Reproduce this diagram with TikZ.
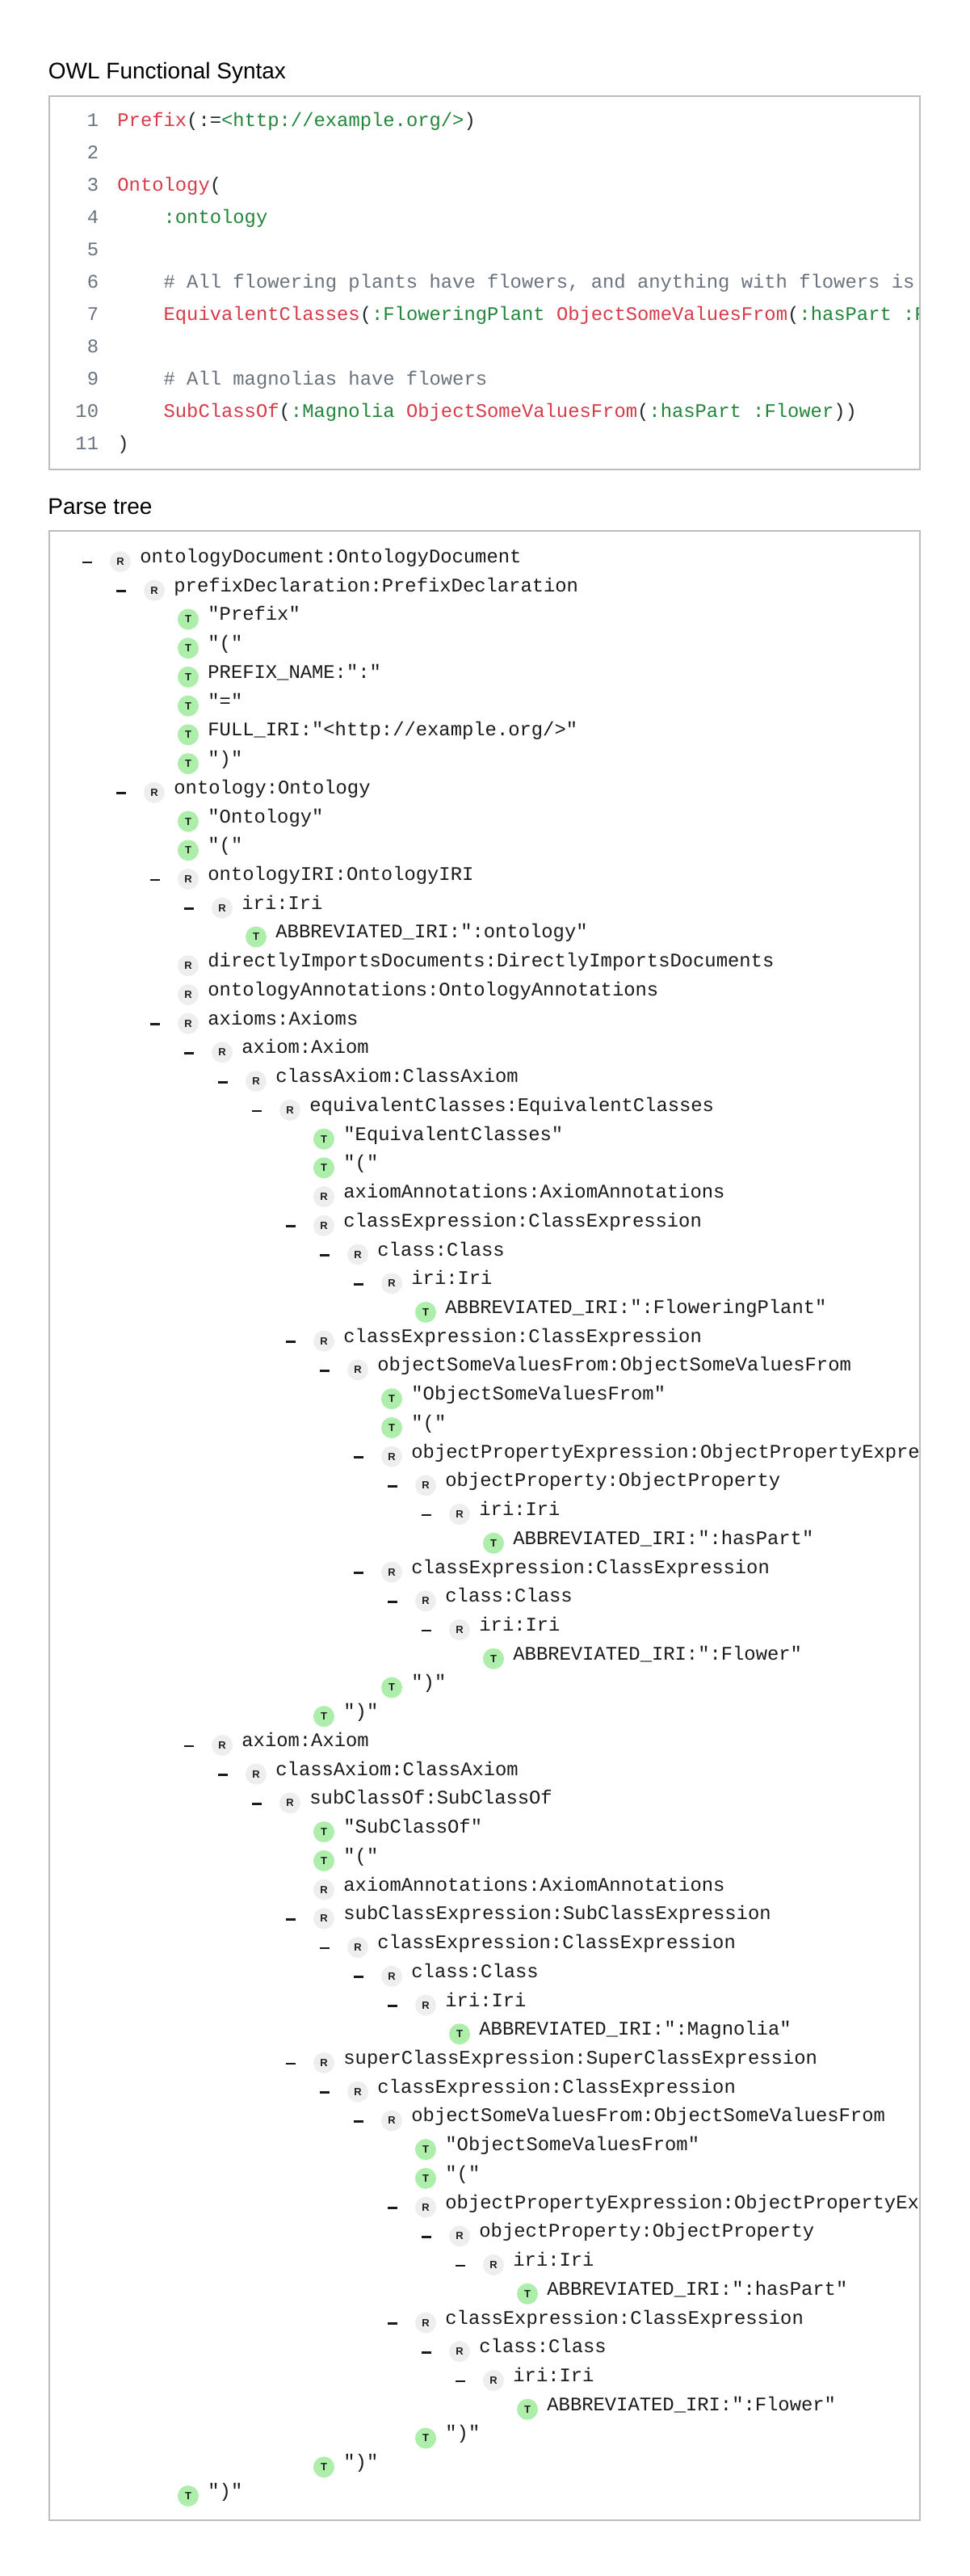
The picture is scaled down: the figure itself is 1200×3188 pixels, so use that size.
\documentclass[tikz,border=0pt]{standalone}
\usepackage{fontspec}
\setmainfont{Liberation Sans}
\setmonofont{Liberation Mono}
\definecolor{cred}{HTML}{D73A49}
\definecolor{cgreen}{HTML}{22863A}
\definecolor{cgray}{HTML}{6A737D}
\definecolor{cblack}{HTML}{24292E}
\definecolor{rfill}{HTML}{EEEEEE}
\definecolor{tfill}{HTML}{ACEEAA}
\definecolor{badgetext}{HTML}{1E1E1E}
\definecolor{treetext}{HTML}{1A1A1A}
\definecolor{panelborder}{HTML}{BDBDBD}
\newcommand\cR[1]{\textcolor{cred}{#1}}
\newcommand\cG[1]{\textcolor{cgreen}{#1}}
\newcommand\cC[1]{\textcolor{cgray}{#1}}
\tikzset{
  badgeR/.style={circle, fill=rfill, minimum size=13pt, inner sep=0pt,
    font=\bfseries\fontsize{6.5}{6.5}\selectfont, text=badgetext},
  badgeT/.style={badgeR, fill=tfill},
  rowtext/.style={anchor=base west, inner sep=0pt,
    font=\ttfamily\fontsize{11.92}{14}\selectfont, text=treetext},
  toggle/.style={rectangle, fill=treetext, minimum width=6pt, minimum height=1.35pt, inner sep=0pt},
  codetext/.style={anchor=base west, inner sep=0pt,
    font=\ttfamily\fontsize{11.92}{14}\selectfont, text=cblack},
  lineno/.style={anchor=base east, inner sep=0pt,
    font=\ttfamily\fontsize{11.92}{14}\selectfont, text=cgray},
  heading/.style={anchor=base west, inner sep=0pt, font=\fontsize{14}{16}\selectfont, text=black},
  panel/.style={draw=panelborder, line width=1pt},
}
\newcommand\RowPos[2]{%
  \pgfmathsetmacro\rowy{695+35.73*(#1-1)}%
  \pgfmathsetmacro\rowx{149+42*#2}%
  \pgfmathsetmacro\textx{\rowx+24}%
  \pgfmathsetmacro\texty{\rowy+1.5}%
  \pgfmathsetmacro\dashx{\rowx-41}%
  \pgfmathsetmacro\dashy{\rowy+1}}
\newcommand\TreeR[3]{\RowPos{#1}{#2}%
  \node[badgeR] (b#1) at (\rowx,\rowy) {R};
  \node[rowtext] (t#1) at (\textx,\texty) {#3};}
\newcommand\TreeX[3]{\TreeR{#1}{#2}{#3}%
  \node[toggle] (d#1) at (\dashx,\dashy) {};}
\newcommand\TreeT[3]{\RowPos{#1}{#2}%
  \node[badgeT] (b#1) at (\rowx,\rowy) {T};
  \node[rowtext] (t#1) at (\textx,\texty) {#3};}
\newcommand\CodeLine[3]{%
  \pgfmathsetmacro\codey{156.5+40*(#1-1)}%
  \node[lineno] (n#1) at (122.5,\codey) {#1};
  \node[codetext] (c#1) at (#2,\codey) {#3};}
\begin{document}
\begin{tikzpicture}[x=0.5pt,y=-0.5pt]
\useasboundingbox[fill=white] (0,0) rectangle (1200,3188);

% ---------- OWL Functional Syntax ----------
\node[heading] (title1) at (59.5,98) {OWL Functional Syntax};
\begin{scope}
\clip (62,120) rectangle (1138,580);
\CodeLine{1}{145}{\cR{Prefix}(:=\cG{<http://example.org/>})}
\CodeLine{2}{145}{}
\CodeLine{3}{145}{\cR{Ontology}(}
\CodeLine{4}{202.2}{\cG{:ontology}}
\CodeLine{5}{145}{}
\CodeLine{6}{202.2}{\cC{\# All flowering plants have flowers, and anything with flowers is a flowering plant}}
\CodeLine{7}{202.2}{\cR{EquivalentClasses}(\cG{:FloweringPlant }\cR{ObjectSomeValuesFrom}(\cG{:hasPart :Flower}))}
\CodeLine{8}{145}{}
\CodeLine{9}{202.2}{\cC{\# All magnolias have flowers}}
\CodeLine{10}{202.2}{\cR{SubClassOf}(\cG{:Magnolia }\cR{ObjectSomeValuesFrom}(\cG{:hasPart :Flower}))}
\CodeLine{11}{145}{)}
\end{scope}
\draw[panel] (61,119) rectangle (1139,581);

% ---------- Parse tree ----------
\node[heading] (title2) at (59,636) {Parse tree};
\begin{scope}
\clip (62,658) rectangle (1138,3118);
\TreeX{1}{0}{ontologyDocument:OntologyDocument}
\TreeX{2}{1}{prefixDeclaration:PrefixDeclaration}
\TreeT{3}{2}{"Prefix"}
\TreeT{4}{2}{"("}
\TreeT{5}{2}{PREFIX\_NAME:":"}
\TreeT{6}{2}{"="}
\TreeT{7}{2}{FULL\_IRI:"<http://example.org/>"}
\TreeT{8}{2}{")"}
\TreeX{9}{1}{ontology:Ontology}
\TreeT{10}{2}{"Ontology"}
\TreeT{11}{2}{"("}
\TreeX{12}{2}{ontologyIRI:OntologyIRI}
\TreeX{13}{3}{iri:Iri}
\TreeT{14}{4}{ABBREVIATED\_IRI:":ontology"}
\TreeR{15}{2}{directlyImportsDocuments:DirectlyImportsDocuments}
\TreeR{16}{2}{ontologyAnnotations:OntologyAnnotations}
\TreeX{17}{2}{axioms:Axioms}
\TreeX{18}{3}{axiom:Axiom}
\TreeX{19}{4}{classAxiom:ClassAxiom}
\TreeX{20}{5}{equivalentClasses:EquivalentClasses}
\TreeT{21}{6}{"EquivalentClasses"}
\TreeT{22}{6}{"("}
\TreeR{23}{6}{axiomAnnotations:AxiomAnnotations}
\TreeX{24}{6}{classExpression:ClassExpression}
\TreeX{25}{7}{class:Class}
\TreeX{26}{8}{iri:Iri}
\TreeT{27}{9}{ABBREVIATED\_IRI:":FloweringPlant"}
\TreeX{28}{6}{classExpression:ClassExpression}
\TreeX{29}{7}{objectSomeValuesFrom:ObjectSomeValuesFrom}
\TreeT{30}{8}{"ObjectSomeValuesFrom"}
\TreeT{31}{8}{"("}
\TreeX{32}{8}{objectPropertyExpression:ObjectPropertyExpression}
\TreeX{33}{9}{objectProperty:ObjectProperty}
\TreeX{34}{10}{iri:Iri}
\TreeT{35}{11}{ABBREVIATED\_IRI:":hasPart"}
\TreeX{36}{8}{classExpression:ClassExpression}
\TreeX{37}{9}{class:Class}
\TreeX{38}{10}{iri:Iri}
\TreeT{39}{11}{ABBREVIATED\_IRI:":Flower"}
\TreeT{40}{8}{")"}
\TreeT{41}{6}{")"}
\TreeX{42}{3}{axiom:Axiom}
\TreeX{43}{4}{classAxiom:ClassAxiom}
\TreeX{44}{5}{subClassOf:SubClassOf}
\TreeT{45}{6}{"SubClassOf"}
\TreeT{46}{6}{"("}
\TreeR{47}{6}{axiomAnnotations:AxiomAnnotations}
\TreeX{48}{6}{subClassExpression:SubClassExpression}
\TreeX{49}{7}{classExpression:ClassExpression}
\TreeX{50}{8}{class:Class}
\TreeX{51}{9}{iri:Iri}
\TreeT{52}{10}{ABBREVIATED\_IRI:":Magnolia"}
\TreeX{53}{6}{superClassExpression:SuperClassExpression}
\TreeX{54}{7}{classExpression:ClassExpression}
\TreeX{55}{8}{objectSomeValuesFrom:ObjectSomeValuesFrom}
\TreeT{56}{9}{"ObjectSomeValuesFrom"}
\TreeT{57}{9}{"("}
\TreeX{58}{9}{objectPropertyExpression:ObjectPropertyExpression}
\TreeX{59}{10}{objectProperty:ObjectProperty}
\TreeX{60}{11}{iri:Iri}
\TreeT{61}{12}{ABBREVIATED\_IRI:":hasPart"}
\TreeX{62}{9}{classExpression:ClassExpression}
\TreeX{63}{10}{class:Class}
\TreeX{64}{11}{iri:Iri}
\TreeT{65}{12}{ABBREVIATED\_IRI:":Flower"}
\TreeT{66}{9}{")"}
\TreeT{67}{6}{")"}
\TreeT{68}{2}{")"}
\end{scope}
\draw[panel] (61,657) rectangle (1139,3119);
\end{tikzpicture}
\end{document}
